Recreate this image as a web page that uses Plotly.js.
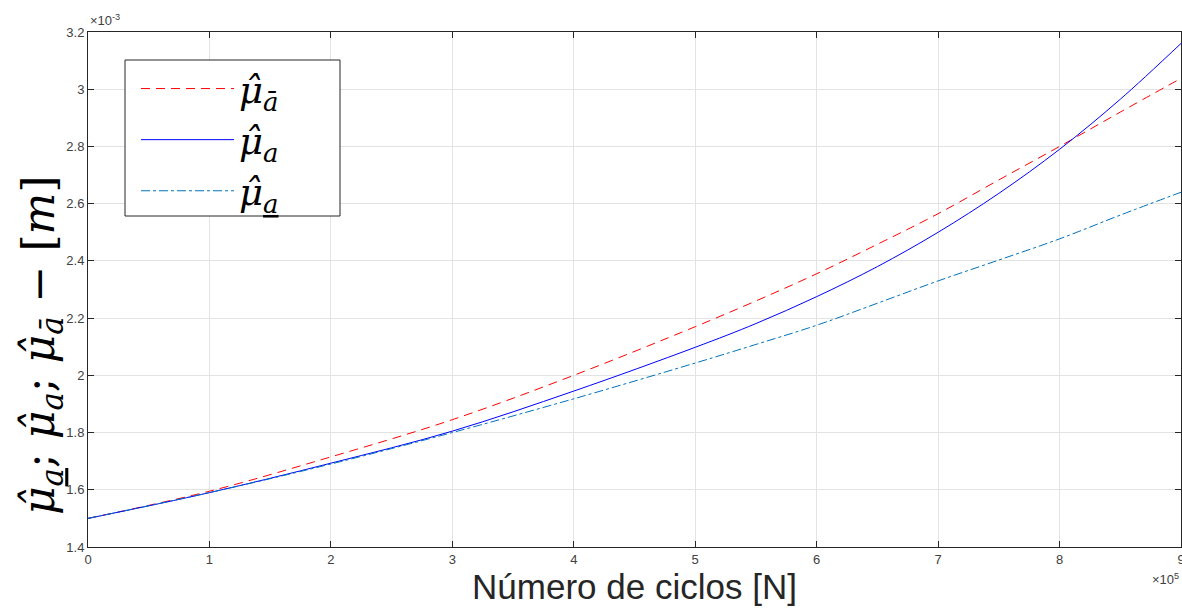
<!DOCTYPE html>
<html><head><meta charset="utf-8">
<script src="https://cdn.plot.ly/plotly-3.0.1.min.js"></script>
<style>body{margin:0;background:#fff}#c{width:1182px;height:609px}</style>
</head><body><div id="c"></div>
<script>
const cycles = [0, 1, 2, 3, 4, 5, 5.5, 6, 6.5, 7, 7.5, 8, 8.5, 9];
const muUpper = [1.5, 1.595, 1.715, 1.845, 2.0, 2.17, 2.26, 2.355, 2.458, 2.565, 2.683, 2.80, 2.92, 3.038];
const muMid   = [1.5, 1.59, 1.693, 1.805, 1.945, 2.098, 2.181, 2.275, 2.38, 2.50, 2.636, 2.79, 2.965, 3.16];
const muLower = [1.5, 1.59, 1.69, 1.80, 1.918, 2.043, 2.108, 2.175, 2.252, 2.33, 2.403, 2.477, 2.56, 2.64];
const names = ['<i>μ\u0302</i><sub><i>ā</i></sub>', '<i>μ\u0302</i><sub><i>a</i></sub>', '<i>μ\u0302</i><sub><u><i>a</i></u></sub>'];
const yTitle = '<i>μ\u0302</i><sub><u><i>a</i></u></sub>; <i>μ\u0302</i><sub><i>a</i></sub>; <i>μ\u0302</i><sub><i>ā</i></sub> − [<i>m</i>]';
const xTicks = [0,1,2,3,4,5,6,7,8,9];
const yTicks = [1.4,1.6,1.8,2,2.2,2.4,2.6,2.8,3,3.2];

const traces = [
  {x: cycles, y: muUpper, name: names[0], mode: 'lines', line: {color: '#ff0000', dash: '9px,6px', width: 1, shape: 'spline'}},
  {x: cycles, y: muMid, name: names[1], mode: 'lines', line: {color: '#0000ff', width: 1, shape: 'spline'}},
  {x: cycles, y: muLower, name: names[2], mode: 'lines', line: {color: '#0072bd', dash: 'dashdot', width: 1, shape: 'spline'}}
];
const tickFont = {family: 'Liberation Sans, Arial, sans-serif', size: 13, color: '#404040'};
const axCommon = {
  showgrid: true, gridcolor: '#e3e3e3', gridwidth: 1,
  showline: true, linecolor: '#262626', linewidth: 1, mirror: 'ticks',
  ticks: 'inside', ticklen: 6, tickcolor: '#262626', zeroline: false,
  tickfont: tickFont, ticklabeloverflow: 'allow'
};
const W = 1093, H = 515, L = 88, T = 32;
const px = v => (v - L) / W, py = v => (T + H - v) / H;
const layout = {
  width: 1182, height: 609,
  margin: {l: 88, r: 1, t: 32, b: 62},
  paper_bgcolor: '#fff', plot_bgcolor: '#fff',
  showlegend: true,
  xaxis: Object.assign({}, axCommon, {range: [0, 9], tickvals: xTicks, ticktext: xTicks.map(String),
    title: {text: 'Número de ciclos [N]', font: {family: 'Liberation Sans, Arial, sans-serif', size: 35, color: '#262626'}, standoff: 8}}),
  yaxis: Object.assign({}, axCommon, {range: [1.4, 3.2], tickvals: yTicks, ticktext: yTicks.map(v => String(v))}),
  shapes: [
    {type: 'rect', xref: 'paper', yref: 'paper', x0: px(125), x1: px(340), y0: py(216), y1: py(60),
     fillcolor: '#fff', line: {color: '#262626', width: 1}, layer: 'above'}
  ],
  legend: {x: px(136), y: py(58), xanchor: 'left', yanchor: 'top', bgcolor: 'rgba(0,0,0,0)', borderwidth: 0,
    font: {family: 'DejaVu Serif, serif', size: 37, color: '#000'}, itemwidth: 93, tracegroupgap: 0},
  annotations: [
    {xref: 'paper', yref: 'paper', x: 0, y: py(345), xanchor: 'center', yanchor: 'middle', xshift: -47, textangle: -90, showarrow: false,
     text: yTitle, font: {family: 'DejaVu Serif, serif', size: 44, color: '#000'}},
    {xref: 'paper', yref: 'paper', x: 0, y: 1, xanchor: 'left', yanchor: 'bottom', yshift: 2, showarrow: false,
     text: '×10<sup>-3</sup>', font: {family: 'Liberation Sans, Arial, sans-serif', size: 13, color: '#404040'}},
    {xref: 'paper', yref: 'paper', x: 1, y: 0, xanchor: 'right', yanchor: 'top', yshift: -22, showarrow: false,
     text: '×10<sup>5</sup>', font: {family: 'Liberation Sans, Arial, sans-serif', size: 13, color: '#404040'}}
  ]
};
Plotly.newPlot('c', traces, layout, {displayModeBar: false, staticPlot: true});
</script></body></html>
